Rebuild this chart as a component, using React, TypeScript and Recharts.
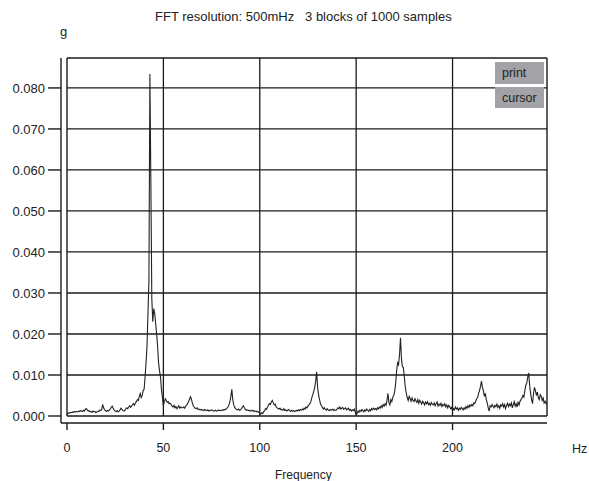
import React from "react"
import { LineChart, Line, XAxis, YAxis, ReferenceLine } from "recharts"

// spectrum bins, 500 mHz apart, starting at 0 Hz (amplitude in g)
const FFT_RES = 0.5
const amplitude = [
  0.0003, 0.0006, 0.0008, 0.0007, 0.0009, 0.0008, 0.001, 0.0009, 0.0011, 0.001, 0.0011, 0.001, 0.0012, 0.0011, 0.0013, 0.0012, 0.0011, 0.0014, 0.0012, 0.0016,
  0.0018, 0.0015, 0.0012, 0.0013, 0.001, 0.0011, 0.0009, 0.0012, 0.001, 0.0011, 0.0008, 0.001, 0.0012, 0.0011, 0.0014, 0.0013, 0.0016, 0.0028, 0.002, 0.0015,
  0.0013, 0.0011, 0.0014, 0.0012, 0.0015, 0.0017, 0.0022, 0.0024, 0.0018, 0.0014, 0.0012, 0.0011, 0.0013, 0.001, 0.0012, 0.0015, 0.0019, 0.0016, 0.0013, 0.0012,
  0.0014, 0.0017, 0.002, 0.0018, 0.0022, 0.0025, 0.0021, 0.0024, 0.0028, 0.003, 0.0026, 0.0032, 0.0035, 0.004, 0.0038, 0.0048, 0.0055, 0.0045, 0.005, 0.0062,
  0.0065, 0.0095, 0.013, 0.017, 0.025, 0.033, 0.0834, 0.0572, 0.0285, 0.023, 0.0262, 0.025, 0.0225, 0.02, 0.017, 0.013, 0.011, 0.0095, 0.0065, 0.0045,
  0.0025, 0.0035, 0.0042, 0.0038, 0.0033, 0.0035, 0.003, 0.0031, 0.0028, 0.0024, 0.0022, 0.0026, 0.002, 0.0023, 0.0018, 0.0021, 0.0025, 0.0019, 0.0022, 0.002,
  0.002, 0.0022, 0.0019, 0.0024, 0.0026, 0.003, 0.0035, 0.004, 0.0047, 0.0042, 0.0032, 0.0025, 0.0022, 0.0019, 0.0018, 0.002, 0.0016, 0.0017, 0.0015, 0.0016,
  0.0014, 0.0015, 0.0013, 0.0016, 0.0014, 0.0013, 0.0015, 0.0012, 0.0014, 0.0013, 0.0015, 0.0014, 0.0012, 0.0013, 0.0014, 0.0012, 0.0013, 0.0015, 0.0013, 0.0014,
  0.0013, 0.0015, 0.0014, 0.0016, 0.0015, 0.0017, 0.0019, 0.0022, 0.0027, 0.0035, 0.0048, 0.0065, 0.004, 0.0027, 0.0021, 0.0018, 0.0016, 0.0015, 0.0017, 0.0014,
  0.0015, 0.0018, 0.0022, 0.0025, 0.002, 0.0016, 0.0014, 0.0015, 0.0013, 0.0014, 0.0012, 0.0013, 0.0014, 0.0012, 0.0013, 0.0011, 0.0012, 0.001, 0.0011, 0.0009,
  0.0007, 0.0005, 0.0008, 0.0006, 0.001, 0.0013, 0.0018, 0.0016, 0.0022, 0.0026, 0.003, 0.0028, 0.0034, 0.0038, 0.0032, 0.0027, 0.0029, 0.0022, 0.002, 0.0018,
  0.0017, 0.0019, 0.0015, 0.0016, 0.0014, 0.0018, 0.0013, 0.0015, 0.0012, 0.0014, 0.0016, 0.0013, 0.0011, 0.0014, 0.0012, 0.0013, 0.0011, 0.0012, 0.0014, 0.0012,
  0.0015, 0.0013, 0.0016, 0.0014, 0.0017, 0.0015, 0.0019, 0.0017, 0.0022, 0.002, 0.0024, 0.0027, 0.003, 0.0035, 0.0045, 0.0052, 0.006, 0.007, 0.0085, 0.0108,
  0.007, 0.0052, 0.004, 0.003, 0.0025, 0.0021, 0.0017, 0.002, 0.0016, 0.0014, 0.0018, 0.0015, 0.0013, 0.0016, 0.0014, 0.0015, 0.0017, 0.0013, 0.0015, 0.0014,
  0.0016, 0.002, 0.0018, 0.0022, 0.0017, 0.0019, 0.0021, 0.0016, 0.0018, 0.002, 0.0015, 0.0017, 0.0019, 0.0014, 0.0016, 0.0012, 0.0015, 0.0013, 0.0017, 0.001,
  0.0003, 0.0006, 0.0012, 0.0009, 0.0014, 0.0011, 0.0016, 0.0013, 0.001, 0.0015, 0.0012, 0.0017, 0.0014, 0.0011, 0.0016, 0.0013, 0.0018, 0.0015, 0.0019, 0.0016,
  0.0018, 0.0015, 0.002, 0.0017, 0.0022, 0.0019, 0.0025, 0.0021, 0.0028, 0.0024, 0.003, 0.0026, 0.0038, 0.0055, 0.0032, 0.0027, 0.004, 0.0035, 0.0046, 0.005,
  0.006, 0.008, 0.011, 0.013, 0.0125, 0.015, 0.0191, 0.014, 0.012, 0.0118, 0.0095, 0.007, 0.0055, 0.0045, 0.0038, 0.0048, 0.0042, 0.0036, 0.0044, 0.0038,
  0.0035, 0.0042, 0.0037, 0.0033, 0.004, 0.0031, 0.0038, 0.0034, 0.0029, 0.0036, 0.0032, 0.0027, 0.0034, 0.003, 0.0035, 0.0028, 0.0031, 0.0026, 0.0033, 0.0029,
  0.0027, 0.0032, 0.0025, 0.003, 0.0034, 0.0024, 0.0029, 0.0026, 0.0031, 0.0023, 0.0028, 0.0025, 0.003, 0.0022, 0.0027, 0.002, 0.0026, 0.0023, 0.0018, 0.0021,
  0.0012, 0.0018, 0.0015, 0.0022, 0.0017, 0.002, 0.0014, 0.0019, 0.0016, 0.0021, 0.0018, 0.0015, 0.002, 0.0017, 0.0023, 0.0019, 0.0025, 0.0021, 0.0027, 0.0024,
  0.0028, 0.0025, 0.0032, 0.003, 0.0036, 0.0042, 0.0045, 0.0055, 0.0062, 0.0072, 0.0085, 0.007, 0.0062, 0.0048, 0.0055, 0.004, 0.0032, 0.002, 0.0012, 0.0025,
  0.0022, 0.0028, 0.0024, 0.002, 0.0026, 0.0023, 0.0029, 0.0021, 0.0025, 0.0019, 0.0027, 0.0024, 0.003, 0.0022, 0.0028, 0.0018, 0.0026, 0.0031, 0.0023, 0.0029,
  0.0025, 0.0032, 0.002, 0.0028, 0.0035, 0.0024, 0.003, 0.0022, 0.0033, 0.0027, 0.0036, 0.004, 0.0044, 0.005, 0.0046, 0.0062, 0.0075, 0.008, 0.0095, 0.0105,
  0.0075, 0.0055, 0.004, 0.003, 0.0055, 0.007, 0.0062, 0.005, 0.0058, 0.0045, 0.004, 0.0052, 0.0048, 0.0038, 0.0044, 0.0032, 0.0036, 0.003, 0.0033,
]

const xTicks = [0, 50, 100, 150, 200]
const yTicks = [0, 0.01, 0.02, 0.03, 0.04, 0.05, 0.06, 0.07, 0.08]
const X_MAX = 249
const Y_MAX = 0.0873

const data = amplitude.map((g, i) => ({ f: i * FFT_RES, g }))

const FONT = "'Liberation Sans', Arial, sans-serif"
const INK = "#1a1a1a"
const xTickStyle = { fill: "#222", fontSize: 12.5, fontFamily: FONT }
const yTickStyle = { fill: "#222", fontSize: 13, fontFamily: FONT }

const button: React.CSSProperties = {
  position: "absolute",
  left: 495,
  width: 49,
  background: "#a3a3a7",
  color: "#222",
  fontSize: 12.5,
  fontFamily: FONT,
  paddingLeft: 7,
  boxSizing: "border-box",
  display: "flex",
  alignItems: "center",
}

export default function App() {
  return (
    <div
      style={{
        position: "absolute",
        left: 0,
        top: 0,
        width: 589,
        height: 481,
        background: "#fff",
        overflow: "hidden",
        fontFamily: FONT,
      }}
    >
      <div
        style={{
          position: "absolute",
          left: 155,
          top: 9,
          fontSize: 13,
          color: "#222",
          whiteSpace: "pre",
        }}
      >
        {"FFT resolution: 500mHz   3 blocks of 1000 samples"}
      </div>
      <div style={{ position: "absolute", left: 60, top: 24, fontSize: 13, color: "#222" }}>g</div>

      <LineChart
        width={589}
        height={481}
        data={data}
        margin={{ top: 58, right: 42, left: 0, bottom: 0 }}
      >
        <XAxis
          type="number"
          dataKey="f"
          domain={[0, X_MAX]}
          ticks={xTicks}
          padding={{ left: 6, right: 0 }}
          height={58}
          tickSize={7}
          tickMargin={13}
          tick={xTickStyle}
          axisLine={{ stroke: INK, strokeWidth: 1.4 }}
          tickLine={{ stroke: INK, strokeWidth: 1.4 }}
          allowDataOverflow
        />
        <YAxis
          type="number"
          domain={[0, Y_MAX]}
          ticks={yTicks}
          padding={{ top: 0, bottom: 7 }}
          width={61}
          tickSize={13}
          tickMargin={3}
          tick={yTickStyle}
          tickFormatter={(v: number) => v.toFixed(3)}
          axisLine={{ stroke: INK, strokeWidth: 1.4 }}
          tickLine={{ stroke: INK, strokeWidth: 1.4 }}
          allowDataOverflow
        />
        {yTicks.slice(1).map((v) => (
          <ReferenceLine
            key={`h-${v}`}
            segment={[
              { x: 0, y: v },
              { x: X_MAX, y: v },
            ]}
            stroke={INK}
            strokeWidth={1.3}
          />
        ))}
        {xTicks.slice(1).map((v) => (
          <ReferenceLine
            key={`v-${v}`}
            segment={[
              { x: v, y: 0 },
              { x: v, y: Y_MAX },
            ]}
            stroke={INK}
            strokeWidth={1.3}
          />
        ))}
        {/* plot frame */}
        <ReferenceLine segment={[{ x: 0, y: 0 }, { x: X_MAX, y: 0 }]} stroke={INK} strokeWidth={1.4} />
        <ReferenceLine segment={[{ x: 0, y: Y_MAX }, { x: X_MAX, y: Y_MAX }]} stroke={INK} strokeWidth={1.4} />
        <ReferenceLine segment={[{ x: 0, y: 0 }, { x: 0, y: Y_MAX }]} stroke={INK} strokeWidth={1.4} />
        <ReferenceLine segment={[{ x: X_MAX, y: 0 }, { x: X_MAX, y: Y_MAX }]} stroke={INK} strokeWidth={1.4} />
        <Line
          type="linear"
          dataKey="g"
          stroke="#222"
          strokeWidth={1.1}
          dot={false}
          isAnimationActive={false}
        />
      </LineChart>

      <div style={{ ...button, top: 62, height: 22 }}>print</div>
      <div style={{ ...button, top: 87, height: 21 }}>cursor</div>

      <div style={{ position: "absolute", left: 572, top: 442, fontSize: 12.5, color: "#222" }}>Hz</div>
      <div style={{ position: "absolute", left: 275, top: 468, fontSize: 12, color: "#222" }}>
        Frequency
      </div>
    </div>
  )
}
